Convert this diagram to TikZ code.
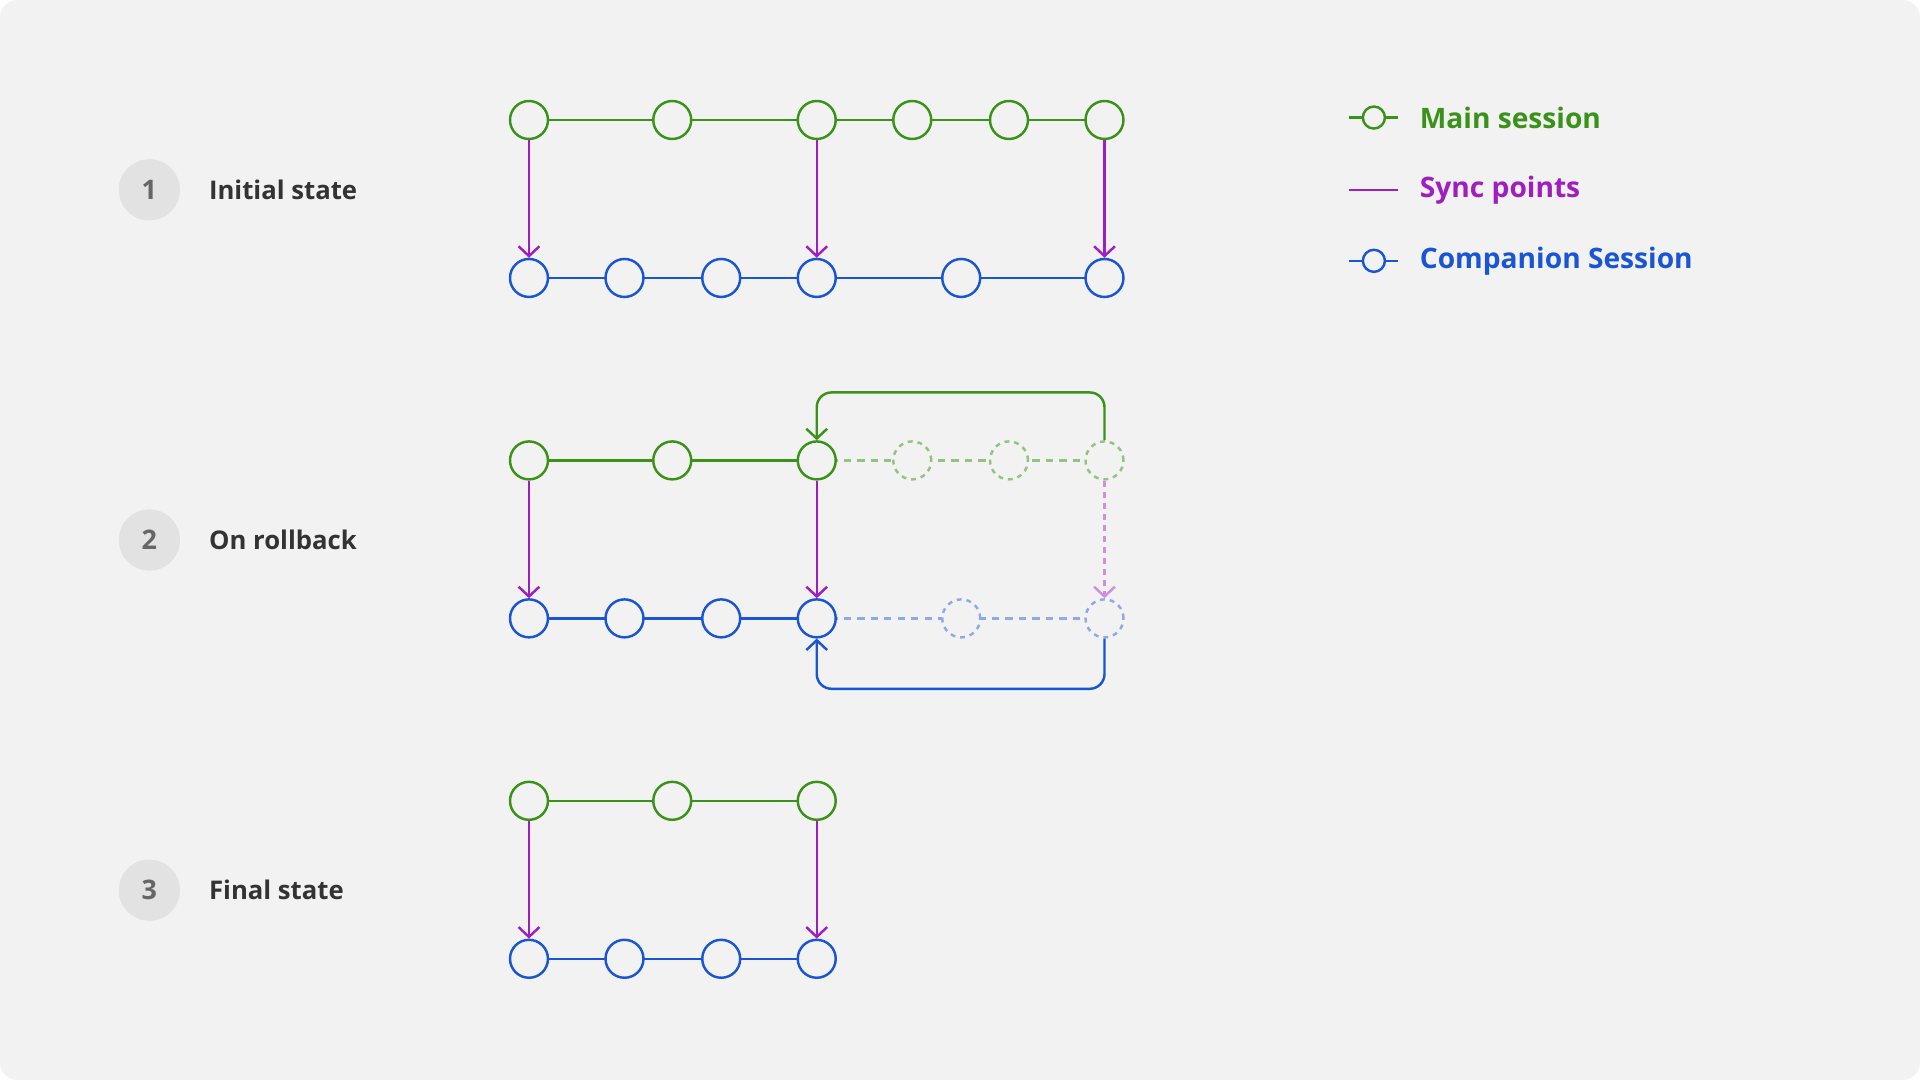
\documentclass[tikz,border=0pt]{standalone}
\usepackage{fontspec}
\setmainfont{Open Sans}
\usetikzlibrary{positioning}
\usetikzlibrary{arrows.meta}
\definecolor{mainc}{HTML}{3A9218}
\definecolor{compc}{HTML}{1A55D4}
\definecolor{syncc}{HTML}{A01EC0}
\definecolor{bgc}{HTML}{F2F2F2}
\definecolor{badgec}{HTML}{E2E2E2}
\tikzset{
  st/.style={circle, draw, line width=2pt, fill=bgc, minimum size=31pt, inner sep=0pt},
  stm/.style={st, draw=mainc},
  stc/.style={st, draw=compc},
  ghm/.style={st, draw=mainc!55, dashed, dash pattern=on 4pt off 4pt},
  ghc/.style={st, draw=compc!50, dashed, dash pattern=on 4pt off 4pt},
  lnm/.style={mainc, line width=2pt},
  lnc/.style={compc, line width=2pt},
  tip/.style={-{Straight Barb[length=8pt,width=17pt]}},
  sync/.style={syncc, line width=2pt, tip},
  badge/.style={circle, fill=badgec, minimum size=50pt, inner sep=0pt, text=black!60, font=\fontsize{22}{26}\selectfont\bfseries},
  lab/.style={anchor=west, text=black!80, font=\fontsize{21}{25}\selectfont\bfseries},
  leg/.style={anchor=west, font=\fontsize{23}{27}\selectfont\bfseries}
}
\begin{document}
\begin{tikzpicture}[x=1pt, y=-1pt]
\useasboundingbox (0,0) rectangle (1568,882);
\fill[bgc, rounded corners=14pt] (0,0) rectangle (1568,882);

% step labels
\node[badge] (b1) at (122,155) {1};
\node[lab, right=20pt of b1] (t1) {Initial state};
\node[badge] (b2) at (122,441) {2};
\node[lab, right=20pt of b2] (t2) {On rollback};
\node[badge] (b3) at (122,727) {3};
\node[lab, right=20pt of b3] (t3) {Final state};

% 1: initial state
\draw[lnm] (432,98) -- (902,98);
\draw[lnc] (432,227) -- (902,227);
\foreach \x [count=\i] in {432,549,667,745,824,902}
  \node[stm] (am\i) at (\x,98) {};
\foreach \x [count=\i] in {432,510,589,667,785,902}
  \node[stc] (ac\i) at (\x,227) {};
\draw[sync] (am1) -- (ac1);
\draw[sync] (am3) -- (ac4);
\draw[sync] (am6) -- (ac6);

% 2: on rollback
\draw[lnm] (432,376) -- (667,376);
\draw[lnm, draw=mainc!55, dashed, dash pattern=on 6pt off 5pt] (667,376) -- (902,376);
\draw[lnc] (432,505) -- (667,505);
\draw[lnc, draw=compc!50, dashed, dash pattern=on 6pt off 5pt] (667,505) -- (902,505);
\foreach \x [count=\i] in {432,549,667}
  \node[stm] (bm\i) at (\x,376) {};
\foreach \x [count=\i] in {745,824,902}
  \node[ghm] (gm\i) at (\x,376) {};
\foreach \x [count=\i] in {432,510,589,667}
  \node[stc] (bc\i) at (\x,505) {};
\foreach \x [count=\i] in {785,902}
  \node[ghc] (gc\i) at (\x,505) {};
\draw[sync] (bm1) -- (bc1);
\draw[sync] (bm3) -- (bc4);
\draw[sync, draw=syncc!50, dashed, dash pattern=on 5pt off 4pt] (gm3) -- (gc2);
\draw[lnm, rounded corners=12pt, tip]
  (gm3.north) -- ++(0,-39) -| (bm3.north);
\draw[lnc, rounded corners=12pt, tip]
  (gc2.south) -- ++(0,41) -| (bc4.south);

% 3: final state
\draw[lnm] (432,654) -- (667,654);
\draw[lnc] (432,783) -- (667,783);
\foreach \x [count=\i] in {432,549,667}
  \node[stm] (cm\i) at (\x,654) {};
\foreach \x [count=\i] in {432,510,589,667}
  \node[stc] (cc\i) at (\x,783) {};
\draw[sync] (cm1) -- (cc1);
\draw[sync] (cm3) -- (cc4);

% legend
\coordinate (l1a) at (1102,96); \coordinate (l1b) at (1142,96);
\draw[lnm] (l1a) -- (l1b);
\node[stm, minimum size=18pt] (lm) at (1122,96) {};
\node[leg, text=mainc] (lt1) at (1156,96) {Main session};
\coordinate (l2a) at (1102,155); \coordinate (l2b) at (1142,155);
\draw[syncc, line width=2pt] (l2a) -- (l2b);
\node[leg, text=syncc] (lt2) at (1156,155) {Sync points};
\coordinate (l3a) at (1102,213); \coordinate (l3b) at (1142,213);
\draw[lnc] (l3a) -- (l3b);
\node[stc, minimum size=18pt] (lc) at (1122,213) {};
\node[leg, text=compc] (lt3) at (1156,213) {Companion Session};

\end{tikzpicture}
\end{document}
